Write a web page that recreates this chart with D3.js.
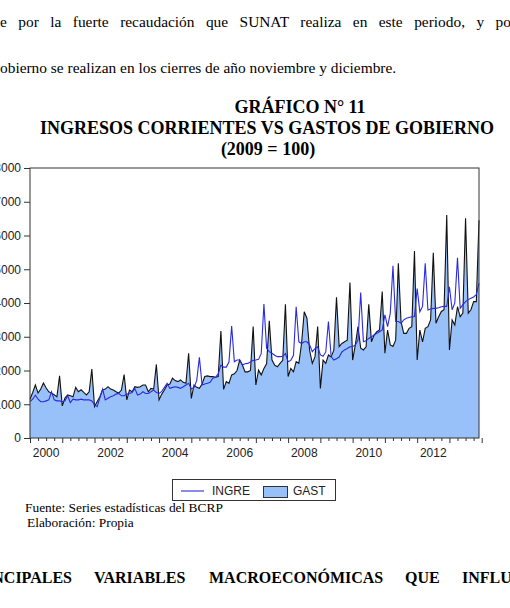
<!DOCTYPE html>
<html><head><meta charset="utf-8">
<script src="https://cdn.jsdelivr.net/npm/d3@7"></script>
<style>body{margin:0;background:#fff}svg{display:block}</style>
</head><body>
<svg id="c" width="510" height="608"></svg>
<script>
const startYear = 2000;
const seriesNames = ["INGRE", "GAST"];
const yTicks = [0, 1000, 2000, 3000, 4000, 5000, 6000, 7000, 8000];
const xLabels = [2000, 2002, 2004, 2006, 2008, 2010, 2012];

// Monthly values, Jan 2000 - Dec 2013 (one row per year)
const INGRE = [
1075,1150,1270,1150,1075,1075,1100,1130,1370,1130,1100,1100,
1075,1100,1250,1050,1150,1130,1130,1150,1130,1130,1130,1100,
980,930,1200,1450,1130,1180,1220,1250,1300,1320,1250,1250,
1300,1320,1350,1470,1270,1300,1370,1320,1320,1370,1420,1350,
1320,1380,1500,1620,1470,1500,1520,1500,1470,1520,1570,1620,
1450,1500,1700,2390,1570,1600,1620,1650,1770,1800,1900,2160,
2100,2100,2250,3320,2260,2310,2310,2160,2200,2210,2250,2300,
2310,2330,2500,3970,2660,2560,2510,2450,2410,2410,2420,2500,
2260,2300,2450,3890,2850,2800,2850,2850,2760,2560,2650,2700,
2460,2420,2550,3450,2410,2310,2350,2400,2550,2610,2650,2700,
2710,2750,2900,4310,2850,2880,2950,3000,3050,3100,3150,3200,
3650,3300,3700,5100,3450,3450,3400,3500,3550,3570,3590,3600,
4430,3740,3900,5180,3790,3820,3840,3840,3860,3890,3900,3900,
4480,3800,4000,5340,3840,3950,4040,4100,4140,4180,4250,4580
];
const GAST = [
1150,1350,1570,1330,1450,1630,1480,1370,1330,1280,1220,1840,
950,1185,1275,1250,1220,1500,1370,1430,1350,1275,1370,2040,
930,1080,1220,1420,1450,1520,1450,1420,1370,1330,1420,1880,
1130,1420,1370,1520,1500,1520,1570,1570,1370,1470,1450,2180,
1130,1300,1420,1570,1600,1770,1700,1670,1720,1650,1620,2510,
1175,1570,1500,1470,1600,1820,1840,1820,1820,1800,1820,3170,
1440,1670,1620,1870,1900,2000,2310,2160,1960,1960,2000,3300,
1570,2010,1870,2060,2200,3470,2310,2160,2110,2210,2300,3960,
1820,2060,1960,2260,2210,2800,3740,3550,2600,2210,2410,3300,
1470,2310,2210,2460,2400,2600,4170,2710,2800,2850,2900,4610,
2310,2760,3300,2660,2610,2700,3960,2850,3050,3150,3200,4340,
2510,3200,2760,2710,2900,5180,3450,3100,3100,3250,3300,5540,
2310,3200,2850,3250,3300,3500,5490,3400,3590,3750,3800,6610,
2610,3500,3350,3890,3590,3700,6510,3700,3800,4040,4040,6450
];

const svg = d3.select("#c");
const serif = "'Liberation Serif','Times New Roman',serif";
const sans = "'Liberation Sans',Arial,sans-serif";

// ---- body text above
function justified(str, x0, x1, y, size) {
  const t = svg.append("text").attr("x", x0).attr("y", y)
    .attr("font-family", serif).attr("font-size", size)
    .attr("fill", "#000").text(str);
  const L = t.node().getComputedTextLength();
  const n = (str.match(/ /g) || []).length;
  t.attr("word-spacing", ((x1 - x0) - L) / n);
  return t;
}
justified("e por la fuerte recaudación que SUNAT realiza en este periodo, y po", 0, 511, 27, 15.4);
svg.append("text").attr("x", 0).attr("y", 73).attr("font-family", serif).attr("font-size", 15.4)
  .text("obierno se realizan en los cierres de año noviembre y diciembre.");

// ---- titles
const titles = [
  {t: "GRÁFICO N° 11", x: 300, y: 113},
  {t: "INGRESOS CORRIENTES VS GASTOS DE GOBIERNO", x: 267, y: 134},
  {t: "(2009 = 100)", x: 268, y: 155}
];
titles.forEach(d => svg.append("text").attr("x", d.x).attr("y", d.y).attr("text-anchor", "middle")
  .attr("font-family", serif).attr("font-weight", "bold").attr("font-size", 18).text(d.t));

// ---- chart
const N = GAST.length;
const dates = d3.range(N).map(i => startYear + i / 12);
const x = d3.scaleLinear().domain([startYear, startYear + (N - 1) / 12]).range([30, 479]);
const y = d3.scaleLinear().domain([0, 8000]).range([438, 168]);

const g = svg.append("g");
g.append("path").datum(GAST)
  .attr("d", d3.area().x((d, i) => x(dates[i])).y0(y(0)).y1(d => y(d)))
  .attr("fill", "#98c1fa").attr("stroke", "none");
g.append("path").datum(GAST)
  .attr("d", d3.line().x((d, i) => x(dates[i])).y(d => y(d)))
  .attr("fill", "none").attr("stroke", "#111").attr("stroke-width", 1.1);
g.append("path").datum(INGRE)
  .attr("d", d3.line().x((d, i) => x(dates[i])).y(d => y(d)))
  .attr("fill", "none").attr("stroke", "#2a2ae0").attr("stroke-width", 1.1);

// frame
svg.append("rect").attr("x", 30).attr("y", 168).attr("width", 449).attr("height", 270)
  .attr("fill", "none").attr("stroke", "#333").attr("stroke-width", 1);

// y axis
const ya = svg.append("g").attr("transform", "translate(30,0)")
  .call(d3.axisLeft(y).tickValues(yTicks).tickSize(6).tickPadding(3).tickFormat(d3.format("d")));
ya.select(".domain").remove();
ya.selectAll("line").attr("stroke", "#333");
ya.selectAll("text").attr("font-family", sans).attr("font-size", 12).attr("fill", "#222");

// x axis ticks (year + quarter)
const quarterTicks = d3.range(startYear, startYear + 14.01, 0.25);
const xa = svg.append("g").attr("transform", "translate(0,438)")
  .call(d3.axisBottom(x).tickValues(quarterTicks).tickSize(3).tickFormat(""));
xa.select(".domain").remove();
xa.selectAll("line").attr("stroke", "#333")
  .attr("y2", d => Math.abs(d - Math.round(d)) < 1e-6 ? 5 : 3);
const xl = svg.append("g");
xLabels.forEach(v => xl.append("text").attr("x", x(v + 0.5)).attr("y", 457)
  .attr("text-anchor", "middle").attr("font-family", sans).attr("font-size", 12).attr("fill", "#222").text(v));

// legend
const lg = svg.append("g");
lg.append("rect").attr("x", 172.5).attr("y", 479.5).attr("width", 163).attr("height", 21)
  .attr("fill", "#fff").attr("stroke", "#333");
lg.append("line").attr("x1", 181).attr("x2", 204).attr("y1", 491).attr("y2", 491)
  .attr("stroke", "#2a2ae0").attr("stroke-width", 1.1);
lg.append("text").attr("x", 212).attr("y", 495).attr("font-family", sans).attr("font-size", 12).attr("fill", "#222").text(seriesNames[0]);
lg.append("rect").attr("x", 263.5).attr("y", 486.5).attr("width", 24).attr("height", 11)
  .attr("fill", "#98c1fa").attr("stroke", "#333");
lg.append("text").attr("x", 293).attr("y", 495).attr("font-family", sans).attr("font-size", 12).attr("fill", "#222").text(seriesNames[1]);

// footnotes
svg.append("text").attr("x", 25).attr("y", 512).attr("font-family", serif).attr("font-size", 13.4).text("Fuente: Series estadísticas del BCRP");
svg.append("text").attr("x", 27).attr("y", 527).attr("font-family", serif).attr("font-size", 13.4).text("Elaboración: Propia");

// bottom heading (justified words)
const headWords = [{t: "PRINCIPALES", x: 72, a: "end"}, {t: "VARIABLES", x: 94}, {t: "MACROECONÓMICAS", x: 209}, {t: "QUE", x: 405}, {t: "INFLUYEN", x: 462}];
headWords.forEach(d => svg.append("text").attr("x", d.x).attr("y", 583).attr("text-anchor", d.a || "start")
  .attr("font-family", serif).attr("font-weight", "bold").attr("font-size", 16).text(d.t));
</script>
</body></html>
